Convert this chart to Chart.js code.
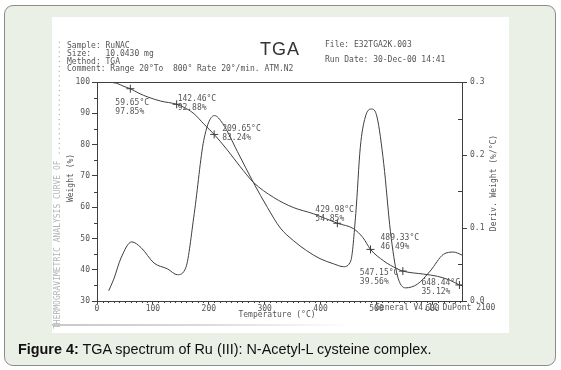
<!DOCTYPE html>
<html>
<head>
<meta charset="utf-8">
<script src="https://cdn.jsdelivr.net/npm/chart.js@4.4.0/dist/chart.umd.min.js"></script>
<style>
body{margin:0;width:561px;height:370px;background:#fff;position:relative;overflow:hidden;font-family:"Liberation Sans",Arial,sans-serif}
#box{position:absolute;left:4px;top:5px;width:550px;height:359px;border:1px solid #8c8c8c;border-radius:9px;background:#ebf0e6}
#sheet{position:absolute;left:52px;top:17px;width:457px;height:316px;background:#fff}
#sheet canvas{position:absolute;left:0;top:0}
.scan{position:absolute;font-family:"DejaVu Sans Mono",monospace;font-size:8px;line-height:8px;color:#555;white-space:pre;transform-origin:0 50%;transform:scaleY(1.15)}
#tga{position:absolute;left:208px;top:23px;font-family:"Liberation Sans",Arial,sans-serif;font-size:18px;line-height:18px;color:#333;letter-spacing:1px}
#smudge{position:absolute;left:0;top:307px;width:300px;height:2px;background:linear-gradient(to right,#c8c8c8,#dadada,rgba(255,255,255,0))}
#caption{position:absolute;left:18px;top:341px;font-size:14.4px;line-height:17px;color:#111}
</style>
</head>
<body>
<div id="box"></div>
<div id="sheet">
  <canvas id="grafico" width="457" height="316"></canvas>
  <div class="scan" style="left:15px;top:25px">Sample: RuNAC</div>
  <div class="scan" style="left:15px;top:33px">Size:   10.0430 mg</div>
  <div class="scan" style="left:15px;top:41px">Method: TGA</div>
  <div class="scan" style="left:15px;top:48px">Comment: Range 20°To  800° Rate 20°/min. ATM.N2</div>
  <div id="tga">TGA</div>
  <div class="scan" style="left:273px;top:24px">File: E32TGA2K.003</div>
  <div class="scan" style="left:273px;top:39px">Run Date: 30-Dec-00 14:41</div>
  <div id="smudge"></div>
</div>
<div id="caption"><b>Figure 4:</b> TGA spectrum of Ru (III): N-Acetyl-L cysteine complex.</div>

<script>
// curva de peso (TGA)
const tgaTemp = [20, 35, 48, 59.65, 75, 91, 114, 142.46, 160, 174, 191, 209.65, 233, 256, 280, 316, 351, 387, 429.98, 459, 476, 489.33, 513, 537, 547.15, 584, 609, 632, 648.44, 653];
const tgaWeight = [100, 99.6, 98.6, 97.85, 96.4, 95.2, 93.9, 92.88, 91.5, 89.8, 86.6, 83.24, 78.3, 73.0, 67.9, 63.1, 59.9, 57.9, 54.85, 53.1, 50.2, 46.49, 42.8, 40.3, 39.56, 38.6, 37.9, 36.6, 35.12, 34.9];

// curva derivada (%/°C)
const derivTemp = [21, 30, 43, 62, 79, 102, 126, 144, 159, 174, 191, 210, 225, 251, 280, 305, 328, 351, 375, 399, 423, 441, 454, 463, 471, 480, 491, 501, 513, 525, 537, 552, 573, 596, 620, 638, 653];
const derivValue = [0.014, 0.03, 0.059, 0.081, 0.073, 0.052, 0.044, 0.036, 0.046, 0.12, 0.22, 0.254, 0.243, 0.205, 0.162, 0.128, 0.10, 0.083, 0.069, 0.058, 0.051, 0.047, 0.055, 0.12, 0.21, 0.252, 0.263, 0.252, 0.188, 0.095, 0.036, 0.018, 0.023, 0.041, 0.064, 0.067, 0.063];

// puntos marcados
const markTemp = [59.65, 142.46, 209.65, 429.98, 489.33, 547.15, 648.44];
const markWeight = [97.85, 92.88, 83.24, 54.85, 46.49, 39.56, 35.12];
const markLabels = [
    ['59.65°C', '97.85%'], ['142.46°C', '92.88%'], ['209.65°C', '83.24%'],
    ['429.98°C', '54.85%'], ['489.33°C', '46.49%'], ['547.15°C', '39.56%'], ['648.44°C', '35.12%']
];

const xTicks = [0, 100, 200, 300, 400, 500, 600];
const yTicks = [30, 40, 50, 60, 70, 80, 90, 100];
const y2Ticks = [0, 0.1, 0.2, 0.3];

// desplazamiento de cada etiqueta respecto a su cruz (px)
const labelOffsets = [[-15, 14], [1, -5], [8, -6], [-22, -13], [10, -11], [-43, 2], [-38, -2]];

const tinta = '#3f3f3f';
const texto = '#555';
const fuente = {family: 'DejaVu Sans Mono', size: 8};

const scanText = {
    id: 'scanText',
    afterDraw(chart) {
        const ctx = chart.ctx;
        const {x, y, y2} = chart.scales;
        ctx.save();
        ctx.strokeStyle = tinta;
        ctx.lineWidth = 1;
        ctx.beginPath();
        // borde superior
        ctx.moveTo(x.left, Math.round(y.top) + 0.5);
        ctx.lineTo(x.right + 5, Math.round(y.top) + 0.5);
        // ticks menores
        for (let t = 10; t < 653; t += 10) {
            if (t % 100 === 0) continue;
            const px = Math.round(x.getPixelForValue(t)) + 0.5;
            ctx.moveTo(px, y.bottom);
            ctx.lineTo(px, y.bottom + 2);
        }
        for (let v = 35; v < 100; v += 10) {
            const py = Math.round(y.getPixelForValue(v)) + 0.5;
            ctx.moveTo(x.left, py);
            ctx.lineTo(x.left - 3, py);
        }
        for (let v = 0.05; v < 0.3; v += 0.1) {
            const py = Math.round(y2.getPixelForValue(v)) + 0.5;
            ctx.moveTo(x.right, py);
            ctx.lineTo(x.right - 4, py);
        }
        ctx.stroke();

        ctx.font = '8px "DejaVu Sans Mono"';
        ctx.fillStyle = texto;
        ctx.textBaseline = 'middle';
        ctx.textAlign = 'left';
        markTemp.forEach((t, i) => {
            const px = x.getPixelForValue(t);
            const py = y.getPixelForValue(markWeight[i]);
            const [dx, dy] = labelOffsets[i];
            ctx.fillText(markLabels[i][0], px + dx, py + dy);
            ctx.fillText(markLabels[i][1], px + dx, py + dy + 9);
        });

        // titulos de ejes
        ctx.textAlign = 'center';
        ctx.fillText('Temperature (°C)', 225, 298);
        ctx.textAlign = 'left';
        ctx.fillText('General V4.1C DuPont 2100', 323, 291);

        ctx.save();
        ctx.translate(19, 161);
        ctx.rotate(-Math.PI / 2);
        ctx.textAlign = 'center';
        ctx.fillText('Weight (%)', 0, 0);
        ctx.restore();

        ctx.save();
        ctx.translate(442, 166);
        ctx.rotate(-Math.PI / 2);
        ctx.textAlign = 'center';
        ctx.fillText('Deriv. Weight (%/°C)', 0, 0);
        ctx.restore();

        ctx.save();
        ctx.translate(6, 312);
        ctx.rotate(-Math.PI / 2);
        ctx.fillStyle = '#b4b4b4';
        ctx.textAlign = 'left';
        ctx.fillText('THERMOGRAVIMETRIC ANALYSIS CURVE OF ........................', 0, 0);
        ctx.restore();

        ctx.restore();
    }
};

const ctx = document.getElementById('grafico').getContext('2d');
window.chartTGA = new Chart(ctx, {
    type: 'scatter',
    data: {
        datasets: [{
                label: 'Weight',
                data: tgaTemp.map((t, i) => ({x: t, y: tgaWeight[i]})),
                yAxisID: 'y',
                showLine: true,
                borderColor: tinta,
                borderWidth: 1,
                pointRadius: 0,
                cubicInterpolationMode: 'monotone'
            }, {
                label: 'Deriv. Weight',
                data: derivTemp.map((t, i) => ({x: t, y: derivValue[i]})),
                yAxisID: 'y2',
                showLine: true,
                borderColor: tinta,
                borderWidth: 1,
                pointRadius: 0,
                cubicInterpolationMode: 'monotone'
            }, {
                label: 'Marks',
                data: markTemp.map((t, i) => ({x: t, y: markWeight[i]})),
                yAxisID: 'y',
                showLine: false,
                pointStyle: 'cross',
                pointRadius: 4,
                borderColor: tinta,
                borderWidth: 1
            }]
    },
    options: {
        responsive: false,
        animation: false,
        layout: {padding: {top: 65, left: 0, right: 0, bottom: 0}},
        plugins: {legend: {display: false}, tooltip: {enabled: false}},
        scales: {
            x: {
                type: 'linear',
                min: 0,
                max: 653,
                afterBuildTicks: s => { s.ticks = xTicks.map(v => ({value: v})); },
                afterFit: s => { s.height = 32; },
                grid: {drawOnChartArea: false, drawTicks: true, tickLength: 3, color: tinta},
                border: {color: tinta},
                ticks: {font: fuente, color: texto, padding: 0, maxRotation: 0, autoSkip: false}
            },
            y: {
                position: 'left',
                min: 30,
                max: 100,
                afterBuildTicks: s => { s.ticks = yTicks.map(v => ({value: v})); },
                afterFit: s => { s.width = 45; },
                grid: {drawOnChartArea: false, drawTicks: true, tickLength: 5, color: tinta},
                border: {color: tinta},
                ticks: {font: fuente, color: texto, padding: 2, autoSkip: false}
            },
            y2: {
                position: 'right',
                min: 0,
                max: 0.3,
                afterBuildTicks: s => { s.ticks = y2Ticks.map(v => ({value: v})); },
                afterFit: s => { s.width = 47; },
                grid: {drawOnChartArea: false, drawTicks: true, tickLength: 5, color: tinta},
                border: {color: tinta},
                ticks: {font: fuente, color: texto, padding: 3, autoSkip: false, callback: v => v.toFixed(1)}
            }
        }
    },
    plugins: [scanText]
});
</script>
</body>
</html>
